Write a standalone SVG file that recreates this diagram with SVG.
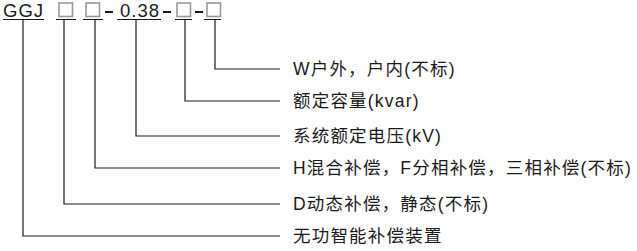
<svg xmlns="http://www.w3.org/2000/svg" width="637" height="251" viewBox="0 0 637 251">
<style>
text{font-family:"Liberation Sans","Noto Sans CJK SC",sans-serif;font-size:17.5px;fill:#1a1a1a;letter-spacing:1.2px}
.code{font-size:18.5px;letter-spacing:1px}
.ln{stroke:#1a1a1a;stroke-width:1.2;fill:none}
.box{stroke:#999;stroke-width:1.6;fill:#fff}
.dash{stroke:#1a1a1a;stroke-width:2}
</style>
<rect width="637" height="251" fill="#fff"/>
<g id="code">
<text class="code" x="3" y="16.5">GGJ</text>
<rect class="box" x="59" y="3" width="13.5" height="13.5"/>
<rect class="box" x="86" y="3" width="13.5" height="13.5"/>
<line class="dash" x1="105" y1="12" x2="113" y2="12"/>
<text class="code" x="120" y="16.5">0.38</text>
<line class="dash" x1="163" y1="12" x2="171" y2="12"/>
<rect class="box" x="177" y="3" width="13.5" height="13.5"/>
<line class="dash" x1="195" y1="12" x2="203" y2="12"/>
<rect class="box" x="207" y="3" width="13.5" height="13.5"/>
</g>
<g id="connectors">
<path class="ln" d="M3 19.5H44M56 19.5H76M83 19.5H103M117 19.5H161M175 19.5H192M204 19.5H221"/>
<path class="ln" d="M215 19.5V69H280"/>
<path class="ln" d="M185 19.5V101H280"/>
<path class="ln" d="M136 19.5V136H280"/>
<path class="ln" d="M95 19.5V168H280"/>
<path class="ln" d="M64 19.5V204H280"/>
<path class="ln" d="M23 19.5V236H280"/>
</g>
<g id="label-w"><text x="293" y="75">W户外，户内(不标)</text></g>
<g id="label-capacity"><text x="293" y="107">额定容量(kvar)</text></g>
<g id="label-voltage"><text x="293" y="142">系统额定电压(kV)</text></g>
<g id="label-mode"><text x="293" y="174">H混合补偿，F分相补偿，三相补偿(不标)</text></g>
<g id="label-dynamic"><text x="293" y="210">D动态补偿，静态(不标)</text></g>
<g id="label-device"><text x="293" y="242">无功智能补偿装置</text></g>
</svg>
